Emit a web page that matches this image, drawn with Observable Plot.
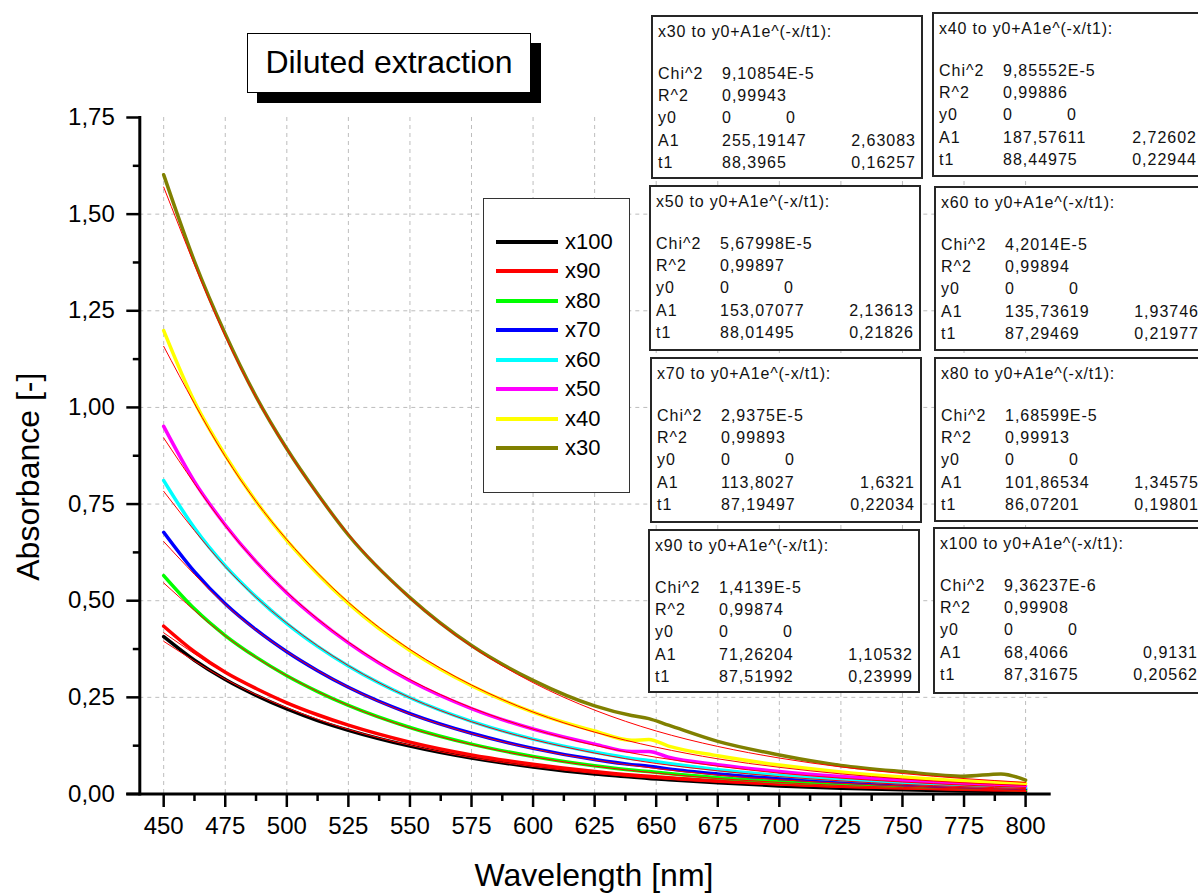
<!DOCTYPE html>
<html>
<head>
<meta charset="utf-8">
<script src="https://cdn.jsdelivr.net/npm/d3@7"></script>
<script src="https://cdn.jsdelivr.net/npm/@observablehq/plot@0.6"></script>
<style>
  html, body { margin: 0; padding: 0; background: #fff; }
  #wrap { position: relative; width: 1198px; height: 895px; overflow: hidden;
          font-family: "Liberation Sans", Arial, sans-serif; color: #000; }
  #wrap svg { position: absolute; left: 0; top: 0; }
  .fitbox { position: absolute; background: #fff; border: 2px solid #262626; box-sizing: border-box; width: 272px; }
  .fitbox span { position: absolute; font-size: 16px; letter-spacing: 1px; line-height: 1;
                 white-space: nowrap; transform: translateY(-50%); color: #111; }
  .fitbox span.ttl { letter-spacing: 0.8px; }
  #legend { position: absolute; left: 483px; top: 198px; width: 147px; height: 295px;
            border: 1.5px solid #333; background: #fff; box-sizing: border-box; }
  #legend .item { position: absolute; left: 0; height: 0; }
  #legend .sw { position: absolute; left: 12px; width: 62px; height: 4px; top: -2px; }
  #legend .lb { position: absolute; left: 81px; top: -12px; font-size: 22px; line-height: 24px; }
  #title { position: absolute; left: 247px; top: 33px; width: 284px; height: 60px;
           border: 1.5px solid #000; background: #fff; box-sizing: border-box;
           box-shadow: 10px 10px 0 #000; font-size: 32px; line-height: 57px; text-align: center; }
</style>
</head>
<body>
<div id="wrap"></div>
<script>
// ---------------- data ----------------
const wavelengths = [450, 462.5, 475, 487.5, 500, 512.5, 525, 550, 575, 600, 625, 640, 647, 655, 675, 700, 725, 750, 775, 790, 800];

const seriesNames = ["x100", "x90", "x80", "x70", "x60", "x50", "x40", "x30"];

const absX100 = [0.407, 0.346, 0.296, 0.255, 0.220, 0.190, 0.165, 0.124, 0.093, 0.070, 0.052, 0.044, 0.040, 0.037, 0.029, 0.021, 0.015, 0.011, 0.008, 0.007, 0.006];
const absX90  = [0.434, 0.368, 0.315, 0.273, 0.236, 0.205, 0.178, 0.134, 0.101, 0.077, 0.058, 0.049, 0.046, 0.042, 0.034, 0.026, 0.020, 0.016, 0.012, 0.011, 0.010];
const absX80  = [0.565, 0.479, 0.410, 0.354, 0.306, 0.265, 0.229, 0.172, 0.129, 0.097, 0.073, 0.062, 0.058, 0.053, 0.042, 0.032, 0.025, 0.019, 0.014, 0.012, 0.011];
const absX70  = [0.677, 0.575, 0.492, 0.425, 0.368, 0.319, 0.276, 0.208, 0.157, 0.118, 0.089, 0.076, 0.072, 0.065, 0.052, 0.040, 0.031, 0.024, 0.018, 0.016, 0.014];
const absX60  = [0.811, 0.688, 0.590, 0.510, 0.441, 0.382, 0.331, 0.249, 0.188, 0.142, 0.108, 0.092, 0.087, 0.079, 0.063, 0.048, 0.037, 0.029, 0.022, 0.019, 0.017];
const absX50  = [0.951, 0.808, 0.696, 0.601, 0.520, 0.451, 0.391, 0.293, 0.221, 0.168, 0.129, 0.110, 0.110, 0.095, 0.076, 0.058, 0.045, 0.035, 0.027, 0.023, 0.021];
const absX40  = [1.199, 1.015, 0.876, 0.757, 0.656, 0.569, 0.493, 0.371, 0.280, 0.212, 0.163, 0.139, 0.141, 0.124, 0.099, 0.075, 0.057, 0.044, 0.034, 0.030, 0.027];
const absX30  = [1.602, 1.378, 1.190, 1.028, 0.893, 0.776, 0.670, 0.508, 0.384, 0.294, 0.228, 0.203, 0.195, 0.178, 0.136, 0.101, 0.074, 0.058, 0.046, 0.052, 0.036];

// thin red fitted curves, read every 25 nm
const fitWavelengths = [450, 475, 500, 525, 550, 575, 600, 625, 650, 675, 700, 725, 750, 775, 800];
const fitX100 = [0.395, 0.297, 0.223, 0.167, 0.126, 0.094, 0.071, 0.053, 0.040, 0.030, 0.023, 0.017, 0.013, 0.010, 0.007];
const fitX90  = [0.417, 0.313, 0.235, 0.177, 0.133, 0.100, 0.075, 0.056, 0.042, 0.032, 0.024, 0.018, 0.014, 0.010, 0.008];
const fitX80  = [0.546, 0.409, 0.306, 0.229, 0.171, 0.128, 0.096, 0.072, 0.054, 0.040, 0.030, 0.022, 0.017, 0.013, 0.009];
const fitX70  = [0.653, 0.490, 0.368, 0.276, 0.207, 0.156, 0.117, 0.088, 0.066, 0.049, 0.037, 0.028, 0.021, 0.016, 0.012];
const fitX60  = [0.783, 0.588, 0.442, 0.332, 0.249, 0.187, 0.141, 0.106, 0.079, 0.060, 0.045, 0.034, 0.025, 0.019, 0.014];
const fitX50  = [0.921, 0.694, 0.522, 0.393, 0.296, 0.223, 0.168, 0.126, 0.095, 0.072, 0.054, 0.041, 0.031, 0.023, 0.017];
const fitX40  = [1.158, 0.873, 0.658, 0.496, 0.374, 0.282, 0.212, 0.160, 0.121, 0.091, 0.069, 0.052, 0.039, 0.029, 0.022];
const fitX30  = [1.570, 1.184, 0.892, 0.672, 0.507, 0.382, 0.288, 0.217, 0.163, 0.123, 0.093, 0.070, 0.053, 0.040, 0.030];

const xMajorTicks = [450, 475, 500, 525, 550, 575, 600, 625, 650, 675, 700, 725, 750, 775, 800];
const xMinorTicks = [462.5, 487.5, 512.5, 537.5, 562.5, 587.5, 612.5, 637.5, 662.5, 687.5, 712.5, 737.5, 762.5, 787.5];
const yMajorTicks = [0, 0.25, 0.5, 0.75, 1.0, 1.25, 1.5, 1.75];
const yMinorTicks = [0.125, 0.375, 0.625, 0.875, 1.125, 1.375, 1.625];
const yGridTicks  = [0.25, 0.5, 0.75, 1.0, 1.25, 1.5];

// fit result boxes (text as shown)
const fitBoxSeries = ["x30", "x40", "x50", "x60", "x70", "x80", "x90", "x100"];
const fitChi2  = ["9,10854E-5", "9,85552E-5", "5,67998E-5", "4,2014E-5", "2,9375E-5", "1,68599E-5", "1,4139E-5", "9,36237E-6"];
const fitR2    = ["0,99943", "0,99886", "0,99897", "0,99894", "0,99893", "0,99913", "0,99874", "0,99908"];
const fitA1    = ["255,19147", "187,57611", "153,07077", "135,73619", "113,8027", "101,86534", "71,26204", "68,4066"];
const fitA1Err = ["2,63083", "2,72602", "2,13613", "1,93746", "1,6321", "1,34575", "1,10532", "0,9131"];
const fitT1    = ["88,3965", "88,44975", "88,01495", "87,29469", "87,19497", "86,07201", "87,51992", "87,31675"];
const fitT1Err = ["0,16257", "0,22944", "0,21826", "0,21977", "0,22034", "0,19801", "0,23999", "0,20562"];

const titleText = "Diluted extraction";
const xLabel = "Wavelength [nm]";
const yLabel = "Absorbance [-]";

// ---------------- styling / layout ----------------
const seriesColors = ["#000000", "#ff0000", "#00ff00", "#0000ff", "#00ffff", "#ff00ff", "#ffff00", "#808000"];
const dataByName = {x100: absX100, x90: absX90, x80: absX80, x70: absX70, x60: absX60, x50: absX50, x40: absX40, x30: absX30};
const fitByName  = {x100: fitX100, x90: fitX90, x80: fitX80, x70: fitX70, x60: fitX60, x50: fitX50, x40: fitX40, x30: fitX30};

const xDomain = [440.3, 810.4];
const xAxisFrom = 435;
const fmtY = d => d.toFixed(2).replace(".", ",");

const dataMarks = seriesNames.map((name, i) =>
  Plot.line(wavelengths.map((w, j) => ({wl: w, abs: dataByName[name][j]})),
    {x: "wl", y: "abs", stroke: seriesColors[i], strokeWidth: 3.5, curve: "monotone-x"}));
const fitMarks = seriesNames.map(name =>
  Plot.line(fitWavelengths.map((w, j) => ({wl: w, abs: fitByName[name][j]})),
    {x: "wl", y: "abs", stroke: "#ff0000", strokeWidth: 1, curve: "natural"}));

const chart = Plot.plot({
  width: 1198,
  height: 895,
  marginLeft: 139.3,
  marginRight: 147.3,
  marginTop: 117,
  marginBottom: 101.5,
  style: {fontFamily: '"Liberation Sans", Arial, sans-serif', fontSize: "24px", color: "#000", background: "transparent", overflow: "visible"},
  x: {domain: xDomain},
  y: {domain: [0, 1.75]},
  marks: [
    Plot.ruleX(xMajorTicks, {stroke: "#bdbdbd", strokeWidth: 1, strokeDasharray: "4,4"}),
    Plot.ruleY(yGridTicks, {stroke: "#bdbdbd", strokeWidth: 1, strokeDasharray: "4,4"}),
    ...dataMarks,
    ...fitMarks,
    Plot.ruleY([0], {x1: xAxisFrom, x2: xDomain[1], stroke: "#000", strokeWidth: 3}),
    Plot.frame({anchor: "left", stroke: "#000", strokeWidth: 3}),
    Plot.axisX({ticks: xMajorTicks, tickSize: 13.5, tickPadding: 9, fontSize: 24, strokeWidth: 2.5, tickFormat: d => String(d), label: null}),
    Plot.axisX({ticks: xMinorTicks, tickSize: 7.5, strokeWidth: 2.5, tickFormat: () => "", label: null}),
    Plot.axisY({ticks: yMajorTicks, tickSize: 13, tickPadding: 12, fontSize: 24, strokeWidth: 2.5, tickFormat: fmtY, label: null}),
    Plot.axisY({ticks: yMinorTicks, tickSize: 6.5, strokeWidth: 2.5, tickFormat: () => "", label: null})
  ]
});

const wrap = document.getElementById("wrap");
wrap.appendChild(chart);

// axis titles
const svg = d3.select(chart);
svg.append("text").attr("x", 594).attr("y", 886).attr("text-anchor", "middle")
  .attr("font-size", 32).attr("fill", "#000").text(xLabel);
svg.append("text").attr("transform", "translate(38.5,476.7) rotate(-90)").attr("text-anchor", "middle")
  .attr("font-size", 32).attr("fill", "#000").text(yLabel);

// title box
const t = document.createElement("div");
t.id = "title"; t.textContent = titleText;
wrap.appendChild(t);

// legend
const lg = document.createElement("div");
lg.id = "legend";
seriesNames.forEach((name, i) => {
  const it = document.createElement("div");
  it.className = "item";
  it.style.top = (43 + i * 29.45) + "px";
  it.innerHTML = `<div class="sw" style="background:${seriesColors[i]}"></div><div class="lb">${name}</div>`;
  lg.appendChild(it);
});
wrap.appendChild(lg);

// fit result boxes
const boxLayout = [[651, 15, 164], [932, 12, 165], [649, 185, 166], [934, 186, 165],
                   [650, 357, 166], [934, 357, 165], [648, 529, 164], [933, 527, 167]];
fitBoxSeries.forEach((name, k) => {
  const [l, tp, h] = boxLayout[k];
  const b = document.createElement("div");
  b.className = "fitbox";
  b.style.left = l + "px"; b.style.top = tp + "px"; b.style.height = h + "px";
  const rows = [
    ["Chi^2", fitChi2[k], "", ""],
    ["R^2", fitR2[k], "", ""],
    ["y0", "0", "0", ""],
    ["A1", fitA1[k], "", fitA1Err[k]],
    ["t1", fitT1[k], "", fitT1Err[k]]
  ];
  let html = `<span class="ttl" style="left:5px;top:15px">${name} to y0+A1e^(-x/t1):</span>`;
  rows.forEach((r, j) => {
    const y = 57 + j * 22.2;
    html += `<span style="left:5px;top:${y}px">${r[0]}</span>`;
    html += `<span style="left:69px;top:${y}px">${r[1]}</span>`;
    if (r[2]) html += `<span style="left:133px;top:${y}px">${r[2]}</span>`;
    if (r[3]) html += `<span style="right:5px;top:${y}px">${r[3]}</span>`;
  });
  b.innerHTML = html;
  wrap.appendChild(b);
});
</script>
</body>
</html>
